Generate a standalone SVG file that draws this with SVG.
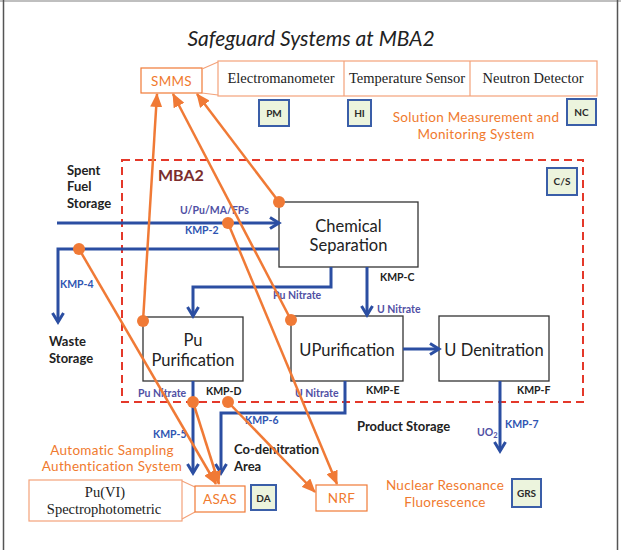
<svg xmlns="http://www.w3.org/2000/svg" width="621" height="550" viewBox="0 0 621 550">
  <style>
    .box { fill: #ffffff; stroke: #333333; stroke-width: 1.3; }
    .obox { fill: #ffffff; stroke: #f07a36; stroke-width: 1.2; }
    .lbox { fill: #ffffff; stroke: #f3a27a; stroke-width: 1.2; }
    .tag { fill: #ecf4dd; stroke: #3a5ea8; stroke-width: 2; }
    .tagt { font-family: Lato, "Liberation Sans", sans-serif; font-size: 10px; font-weight: bold; fill: #2a2a2a; text-anchor: middle; }
    .proc { font-family: Lato, "Liberation Sans", sans-serif; font-size: 16.5px; fill: #222222; text-anchor: middle; }
    .serif { font-family: "Liberation Serif", "Times New Roman", serif; font-size: 14.5px; fill: #222222; text-anchor: middle; }
    .otxt { font-family: Lato, "Liberation Sans", sans-serif; font-size: 13.5px; fill: #f07a2e; text-anchor: middle; letter-spacing: 0.3px; }
    .bold { font-family: Lato, "Liberation Sans", sans-serif; font-size: 13px; font-weight: bold; fill: #222222; }
    .kmpk { font-family: Lato, "Liberation Sans", sans-serif; font-size: 10.5px; font-weight: bold; fill: #222222; }
    .kmpb { font-family: Lato, "Liberation Sans", sans-serif; font-size: 10.5px; font-weight: bold; fill: #2f55b2; }
    .mat { font-family: Lato, "Liberation Sans", sans-serif; font-size: 10.5px; font-weight: bold; fill: #5050a4; }
    .flow { fill: none; stroke: #2b4ea2; stroke-width: 3; marker-end: url(#blueHead); }
    .flow2 { fill: none; stroke: #2b4ea2; stroke-width: 3; }
    .sig { fill: none; stroke: #f07a36; stroke-width: 2.5; marker-end: url(#orangeHead); }
    .dot { fill: #f07a36; }
  </style>
  <defs>
    <marker id="blueHead" markerUnits="userSpaceOnUse" markerWidth="14" markerHeight="14" viewBox="0 0 14 14" refX="11" refY="7" orient="auto">
      <path d="M2,1.5 L11,7 L2,12.5" fill="none" stroke="#2b4ea2" stroke-width="3" stroke-linejoin="miter"/>
    </marker>
    <marker id="orangeHead" markerUnits="userSpaceOnUse" markerWidth="14" markerHeight="12" viewBox="0 0 14 12" refX="13" refY="6" orient="auto">
      <path d="M0,0 L14,6 L0,12 z" fill="#f07a36"/>
    </marker>
  </defs>

  <rect width="621" height="550" fill="#ffffff"/>
  <!-- page frame -->
  <g id="frame" stroke="#555555">
    <line x1="0" y1="1" x2="621" y2="1" stroke="#aaaaaa" stroke-width="1.5"/>
    <line x1="3.5" y1="0" x2="3.5" y2="550" stroke-width="1.5"/>
    <line x1="617.5" y1="0" x2="617.5" y2="550" stroke-width="1.5"/>
  </g>

  <text x="311" y="46" font-family="Lato, 'Liberation Sans', sans-serif" font-style="italic" font-size="21" fill="#222222" text-anchor="middle">Safeguard Systems at MBA2</text>

  <!-- MBA2 boundary -->
  <g id="mba2">
    <rect x="122" y="160" width="461" height="242" fill="none" stroke="#e4382a" stroke-width="2" stroke-dasharray="8 5"/>
    <text x="158" y="181" font-family="Lato, 'Liberation Sans', sans-serif" font-size="16" font-weight="bold" fill="#7c2d2d">MBA2</text>
  </g>

  <!-- solution measurement and monitoring system -->
  <g id="smms">
    <rect class="obox" x="141" y="68" width="61" height="25"/>
    <text class="otxt" x="171.5" y="85.5" font-size="13">SMMS</text>
    <path d="M202,69 L218,62 M202,93 L218,95" fill="none" stroke="#f3a27a" stroke-width="1.2"/>
  </g>
  <g id="instruments">
    <rect class="lbox" x="218" y="61" width="379" height="35"/>
    <line x1="344" y1="61" x2="344" y2="96" stroke="#f3a27a" stroke-width="1.2"/>
    <line x1="470" y1="61" x2="470" y2="96" stroke="#f3a27a" stroke-width="1.2"/>
    <text class="serif" x="281" y="83">Electromanometer</text>
    <text class="serif" x="407" y="83">Temperature Sensor</text>
    <text class="serif" x="533" y="83">Neutron Detector</text>
  </g>
  <g id="tag-pm"><rect class="tag" x="259" y="100" width="30" height="26"/><text class="tagt" x="274" y="117">PM</text></g>
  <g id="tag-hi"><rect class="tag" x="348" y="100" width="23" height="26"/><text class="tagt" x="359.5" y="117">HI</text></g>
  <g id="tag-nc"><rect class="tag" x="567" y="99" width="29" height="26"/><text class="tagt" x="581.5" y="116">NC</text></g>
  <g id="smms-label">
    <text class="otxt" x="476" y="122">Solution Measurement and</text>
    <text class="otxt" x="476" y="139">Monitoring System</text>
  </g>
  <g id="tag-cs"><rect class="tag" x="547" y="168" width="30" height="27"/><text class="tagt" x="562" y="185">C/S</text></g>

  <!-- storage areas -->
  <g id="spent-fuel">
    <text class="bold" x="67" y="175">Spent</text>
    <text class="bold" x="67" y="191">Fuel</text>
    <text class="bold" x="67" y="208">Storage</text>
  </g>
  <g id="waste">
    <text class="bold" x="49" y="346">Waste</text>
    <text class="bold" x="49" y="363">Storage</text>
  </g>
  <g id="product-storage"><text class="bold" x="357" y="431">Product Storage</text></g>
  <g id="co-denitration">
    <text class="bold" x="234" y="454">Co-denitration</text>
    <text class="bold" x="234" y="471">Area</text>
  </g>

  <!-- process units -->
  <g id="chem-sep">
    <rect class="box" x="279" y="202" width="139" height="65"/>
    <text class="proc" x="348.5" y="232">Chemical</text>
    <text class="proc" x="348.5" y="251">Separation</text>
  </g>
  <g id="pu-purification">
    <rect class="box" x="143" y="317" width="100" height="64"/>
    <text class="proc" x="193" y="346">Pu</text>
    <text class="proc" x="193" y="366">Purification</text>
  </g>
  <g id="u-purification">
    <rect class="box" x="291" y="316" width="112" height="65"/>
    <text class="proc" x="347" y="356" font-size="17">UPurification</text>
  </g>
  <g id="u-denitration">
    <rect class="box" x="439" y="316" width="110" height="65"/>
    <text class="proc" x="494" y="356" font-size="17">U Denitration</text>
  </g>

  <!-- verification equipment -->
  <g id="asas-label">
    <text class="otxt" x="112" y="455">Automatic Sampling</text>
    <text class="otxt" x="112" y="471">Authentication System</text>
  </g>
  <g id="pu-spectro">
    <rect class="lbox" x="29" y="480" width="153" height="41"/>
    <text class="serif" x="105" y="497">Pu(VI)</text>
    <text class="serif" x="104" y="514">Spectrophotometric</text>
    <path d="M182,481 L195,487 M182,519 L195,512" fill="none" stroke="#f3a27a" stroke-width="1.2"/>
  </g>
  <g id="asas">
    <rect class="obox" x="195" y="486" width="50" height="26"/>
    <text class="otxt" x="220" y="504" font-size="13">ASAS</text>
  </g>
  <g id="tag-da"><rect class="tag" x="251" y="485" width="25" height="25"/><text class="tagt" x="263.5" y="502">DA</text></g>
  <g id="nrf">
    <rect class="obox" x="316" y="485" width="51" height="26"/>
    <text class="otxt" x="341.5" y="503" font-size="13">NRF</text>
  </g>
  <g id="nrf-label">
    <text class="otxt" x="445" y="490">Nuclear Resonance</text>
    <text class="otxt" x="445" y="507">Fluorescence</text>
  </g>
  <g id="tag-grs"><rect class="tag" x="512" y="479" width="29" height="28"/><text class="tagt" x="526.5" y="497">GRS</text></g>

  <!-- material flows -->
  <g id="flows">
    <path class="flow" d="M57,223 H279"/>
    <path class="flow" d="M279,249 H58 V322"/>
    <path class="flow" d="M331,267 V287 H193 V316"/>
    <path class="flow" d="M367,267 V315"/>
    <path class="flow" d="M403,349 H439"/>
    <path class="flow" d="M193,381 V473"/>
    <path class="flow" d="M345,381 V413 H221 V473"/>
    <path class="flow" d="M500,381 V451"/>
  </g>
  <g id="flow-labels">
    <text class="mat" x="180" y="214">U/Pu/MA/FPs</text>
    <text class="kmpb" x="185" y="234">KMP-2</text>
    <text class="kmpb" x="60" y="288">KMP-4</text>
    <text class="kmpk" x="380" y="281">KMP-C</text>
    <text class="mat" x="273" y="299">Pu Nitrate</text>
    <text class="mat" x="377" y="313">U Nitrate</text>
    <text class="mat" x="138" y="397">Pu Nitrate</text>
    <text class="kmpk" x="206" y="395">KMP-D</text>
    <text class="mat" x="295" y="397">U Nitrate</text>
    <text class="kmpk" x="366" y="394">KMP-E</text>
    <text class="kmpk" x="517" y="394">KMP-F</text>
    <text class="kmpb" x="153" y="438">KMP-5</text>
    <text class="kmpb" x="245" y="424">KMP-6</text>
    <text class="kmpb" x="505" y="428">KMP-7</text>
    <text class="mat" x="477" y="436">UO<tspan font-size="7.5" dy="2">2</tspan></text>
  </g>

  <!-- measurement signal links -->
  <g id="signals">
    <line class="sig" x1="143" y1="321" x2="157" y2="94"/>
    <line class="sig" x1="291" y1="320" x2="173" y2="94"/>
    <line class="sig" x1="279" y1="202" x2="197" y2="94"/>
    <line class="sig" x1="228" y1="223" x2="337" y2="484"/>
    <line class="sig" x1="79" y1="249" x2="216" y2="484"/>
    <line class="sig" x1="193" y1="402" x2="219" y2="484"/>
    <line class="sig" x1="228" y1="402" x2="315" y2="492"/>
    <circle class="dot" cx="143" cy="321" r="6"/>
    <circle class="dot" cx="291" cy="320" r="6"/>
    <circle class="dot" cx="279" cy="202" r="6"/>
    <circle class="dot" cx="228" cy="223" r="6"/>
    <circle class="dot" cx="79" cy="249" r="6"/>
    <circle class="dot" cx="193" cy="402" r="6"/>
    <circle class="dot" cx="228" cy="402" r="6"/>
  </g>
</svg>
